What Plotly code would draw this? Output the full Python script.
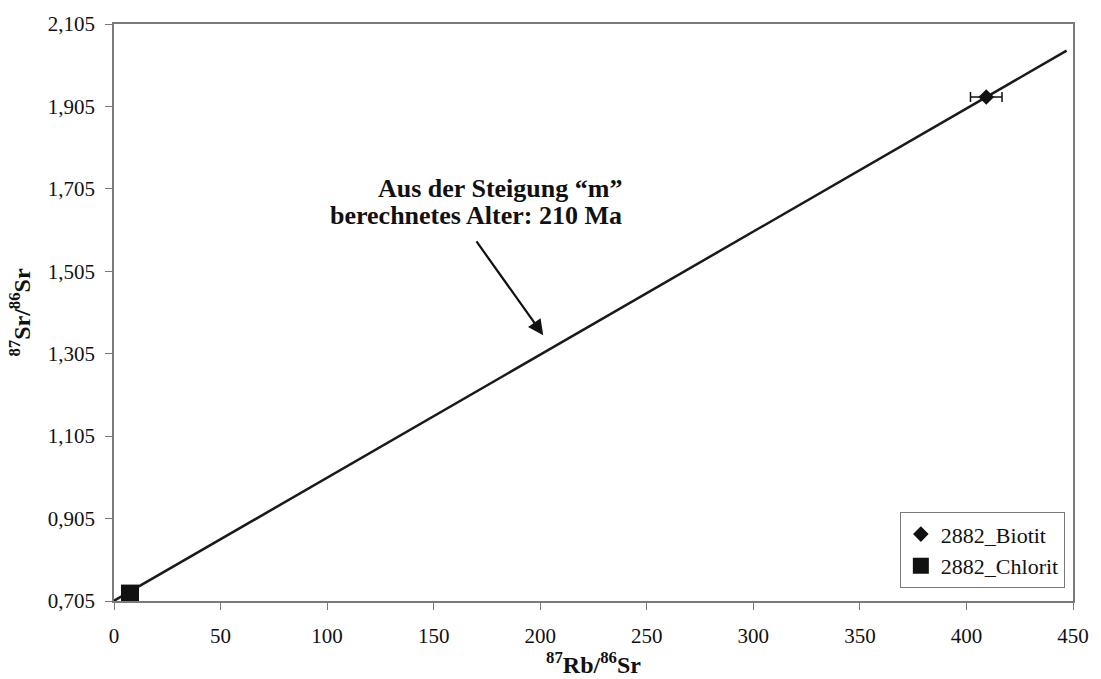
import plotly.graph_objects as go

# Data
line_x = [0.0, 447.0]
line_y = [0.7055, 2.0403]
biotit_x = [409.3]
biotit_y = [1.928]
biotit_xerr = [7.4]
chlorit_x = [7.5]
chlorit_y = [0.723]
x_ticks = [0, 50, 100, 150, 200, 250, 300, 350, 400, 450]
y_ticks = [0.705, 0.905, 1.105, 1.305, 1.505, 1.705, 1.905, 2.105]
y_ticklabels = ["0,705", "0,905", "1,105", "1,305", "1,505", "1,705", "1,905", "2,105"]
note_lines = ["Aus der Steigung “m”", "berechnetes Alter: 210 Ma"]
note_y = [1.706, 1.640]

FONT = "Liberation Serif, Times New Roman, serif"
AX = "#7a7a7a"

fig = go.Figure()
fig.add_trace(go.Scatter(x=line_x, y=line_y, mode="lines",
                         line=dict(color="#1a1a1a", width=2.5),
                         showlegend=False, hoverinfo="skip"))
fig.add_trace(go.Scatter(x=biotit_x, y=biotit_y, mode="markers", name="2882_Biotit",
                         marker=dict(symbol="diamond", size=12, color="#111"),
                         error_x=dict(type="data", array=biotit_xerr, color="#111",
                                      thickness=1.5, width=5)))
fig.add_trace(go.Scatter(x=chlorit_x, y=chlorit_y, mode="markers", name="2882_Chlorit",
                         marker=dict(symbol="square", size=18, color="#111")))

fig.add_annotation(x=201.4, y=1.350, ax=169.6, ay=1.581, axref="x", ayref="y",
                   xref="x", yref="y", text="", showarrow=True,
                   arrowhead=2, arrowsize=1.4, arrowwidth=2.2, arrowcolor="#111")
for txt, yy in zip(note_lines, note_y):
    fig.add_annotation(x=239.3, y=yy, xref="x", yref="y", xanchor="right",
                       text="<b>" + txt + "</b>",
                       showarrow=False, font=dict(family=FONT, size=26, color="#111"))

fig.update_layout(
    width=1101, height=679,
    margin=dict(l=114, r=24, t=19, b=78),
    paper_bgcolor="white", plot_bgcolor="white",
    font=dict(family=FONT, size=21, color="#111"),
    showlegend=True,
    legend=dict(x=0.9915, y=0.022, xanchor="right", yanchor="bottom",
                bordercolor=AX, borderwidth=1, bgcolor="white",
                font=dict(family=FONT, size=22, color="#111"),
                itemsizing="trace", tracegroupgap=0, itemwidth=30),
    xaxis=dict(range=[0, 450], tickvals=x_ticks, ticks="outside", ticklen=7,
               tickcolor=AX, showline=True, linecolor=AX, linewidth=1.5, mirror=True,
               showgrid=False, zeroline=False, ticklabelstandoff=8,
               tickfont=dict(family=FONT, size=21, color="#111"),
               title=dict(text="<b><sup>87</sup>Rb/<sup>86</sup>Sr</b>",
                          font=dict(family=FONT, size=24, color="#111"), standoff=2)),
    yaxis=dict(range=[0.705, 2.105], tickvals=y_ticks, ticktext=y_ticklabels,
               ticks="outside", ticklen=7, tickcolor=AX, showline=True, linecolor=AX,
               linewidth=1.5, mirror=True, showgrid=False, zeroline=False,
               ticklabelstandoff=6,
               tickfont=dict(family=FONT, size=21, color="#111"),
               title=dict(text="<b><sup>87</sup>Sr/<sup>86</sup>Sr</b>",
                          font=dict(family=FONT, size=24, color="#111"), standoff=10)),
)

fig.write_html("out.html")
